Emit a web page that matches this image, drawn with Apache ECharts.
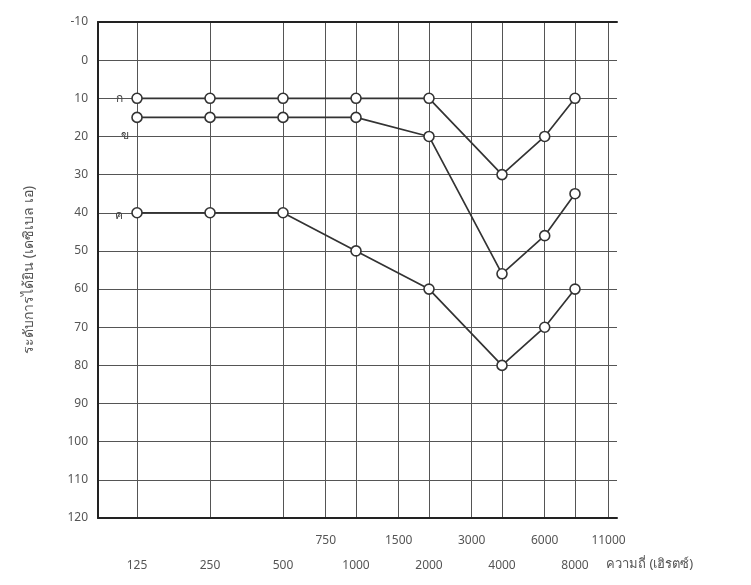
<!DOCTYPE html>
<html><head><meta charset="utf-8">
<script src="https://cdn.jsdelivr.net/npm/echarts@6/dist/echarts.min.js"></script>
<style>html,body{margin:0;padding:0;background:#fff}#c{width:751px;height:585px}</style>
</head><body><div id="c"></div>
<script>
// ---- data ----
const freqs = [125, 250, 500, 1000, 2000, 4000, 6000, 8000];
const seriesNames = ['ก', 'ข', 'ค'];
const valuesA = [10, 10, 10, 10, 10, 30, 20, 10];
const valuesB = [15, 15, 15, 15, 20, 56, 46, 35];
const valuesC = [40, 40, 40, 50, 60, 80, 70, 60];
const mainTickFreqs = [125, 250, 500, 1000, 2000, 4000, 8000];
const mainTickLabels = ['125', '250', '500', '1000', '2000', '4000', '8000'];
const midTickFreqs = [750, 1500, 3000, 6000, 11000];
const midTickLabels = ['750', '1500', '3000', '6000', '11000'];
const yTickLabels = ['-10', '0', '10', '20', '30', '40', '50', '60', '70', '80', '90', '100', '110', '120'];
const yTitle = 'ระดับการได้ยิน (เดซิเบล เอ)';
const xTitle = 'ความถี่ (เฮิรตซ์)';

// ---- helpers ----
const oct = f => Math.log2(f / 125);
const X_MIN = oct(86.3), X_MAX = oct(11920);
const FONT = 'Noto Sans, DejaVu Sans, sans-serif';
const TXT = '#555';
const labelFor = (ticks, labels) => v => {
  let best = 0, d = 1e9;
  ticks.forEach((f, i) => { const dd = Math.abs(oct(f) - v); if (dd < d) { d = dd; best = i; } });
  return labels[best];
};
const labelOffsets = [[0, 0], [6, 18], [0, 3]];
const mkSeries = (name, vals, idx) => ({
  type: 'line',
  name: name,
  symbol: 'circle',
  symbolSize: 10,
  itemStyle: { color: '#fff', borderColor: '#333', borderWidth: 1.6 },
  lineStyle: { color: '#333', width: 1.7 },
  emphasis: { disabled: true },
  z: 5,
  data: freqs.map((f, i) => {
    const p = { value: [oct(f), vals[i]] };
    if (i === 0) p.label = {
      show: true, position: 'left', distance: 8, formatter: name,
      color: '#444', fontSize: 12, fontFamily: FONT, offset: labelOffsets[idx]
    };
    return p;
  })
});

const chart = echarts.init(document.getElementById('c'));
chart.setOption({
  animation: false,
  backgroundColor: '#fff',
  grid: { left: 98, right: 134, top: 22, bottom: 67 },
  xAxis: [
    {
      type: 'value', position: 'bottom', min: X_MIN, max: X_MAX,
      axisLine: { show: true, onZero: false, lineStyle: { color: '#222', width: 2 } },
      axisTick: { show: false, customValues: mainTickFreqs.map(oct) },
      axisLabel: { customValues: mainTickFreqs.map(oct), formatter: labelFor(mainTickFreqs, mainTickLabels),
        margin: 42, color: TXT, fontSize: 12, fontFamily: FONT },
      splitLine: { show: true, lineStyle: { color: '#555', width: 1 } }
    },
    {
      type: 'value', position: 'bottom', min: X_MIN, max: X_MAX,
      axisLine: { show: false },
      axisTick: { show: false, customValues: midTickFreqs.map(oct) },
      axisLabel: { customValues: midTickFreqs.map(oct), formatter: labelFor(midTickFreqs, midTickLabels),
        margin: 17, color: TXT, fontSize: 12, fontFamily: FONT },
      splitLine: { show: true, lineStyle: { color: '#555', width: 1 } }
    },
    {
      type: 'value', position: 'top', min: X_MIN, max: X_MAX,
      axisLine: { show: true, onZero: false, lineStyle: { color: '#222', width: 2 } },
      axisTick: { show: false }, axisLabel: { show: false }, splitLine: { show: false }
    }
  ],
  yAxis: {
    type: 'value', inverse: true, min: -10, max: 120, interval: 10,
    axisLine: { show: true, onZero: false, lineStyle: { color: '#222', width: 2 } },
    axisTick: { show: false },
    axisLabel: { formatter: v => yTickLabels[Math.round((v + 10) / 10)], margin: 10,
      color: TXT, fontSize: 12, fontFamily: FONT },
    splitLine: { show: true, lineStyle: { color: '#555', width: 1 } },
    name: yTitle, nameLocation: 'middle', nameRotate: 90, nameGap: 62,
    nameTextStyle: { color: TXT, fontSize: 14, fontFamily: FONT }
  },
  graphic: [{
    type: 'text', left: 606, top: 558,
    style: { text: xTitle, fill: TXT, fontSize: 13, fontFamily: FONT }
  }],
  series: [
    mkSeries(seriesNames[0], valuesA, 0),
    mkSeries(seriesNames[1], valuesB, 1),
    mkSeries(seriesNames[2], valuesC, 2)
  ]
});
</script>
</body></html>
